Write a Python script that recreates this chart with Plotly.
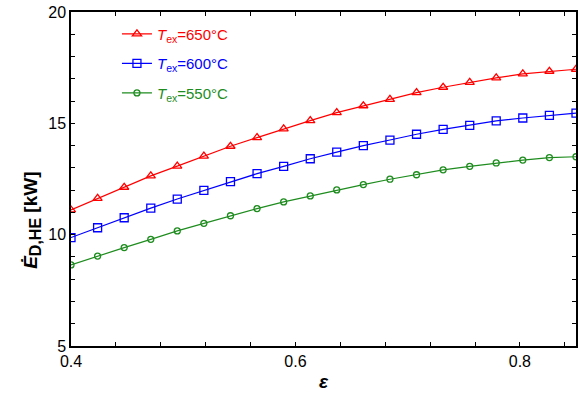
import plotly.graph_objects as go

eps = [0.4, 0.4237, 0.4474, 0.4711, 0.4947, 0.5184, 0.5421, 0.5658, 0.5895, 0.6132,
       0.6368, 0.6605, 0.6842, 0.7079, 0.7316, 0.7553, 0.7789, 0.8026, 0.8263, 0.85]

ed_650 = [11.11, 11.63, 12.13, 12.64, 13.08, 13.53, 13.97, 14.36, 14.75, 15.12,
          15.48, 15.79, 16.08, 16.38, 16.62, 16.84, 17.04, 17.22, 17.34, 17.43]
ed_600 = [9.87, 10.31, 10.76, 11.19, 11.60, 11.99, 12.38, 12.74, 13.07, 13.41,
          13.71, 14.00, 14.25, 14.51, 14.73, 14.91, 15.11, 15.24, 15.36, 15.46]
ed_550 = [8.64, 9.04, 9.42, 9.79, 10.17, 10.51, 10.85, 11.17, 11.47, 11.74,
          12.01, 12.25, 12.49, 12.69, 12.91, 13.07, 13.22, 13.35, 13.46, 13.50]

labels = ["650", "600", "550"]
series = [ed_650, ed_600, ed_550]
colors = ["#ff0000", "#0000ff", "#1e8c1e"]
symbols = ["triangle-up-open", "square-open", "circle-open"]
sizes = [8, 8, 6]

FONT = "Liberation Sans, Arial, sans-serif"

fig = go.Figure()
for lab, ys, c, s, sz in zip(labels, series, colors, symbols, sizes):
    fig.add_trace(go.Scatter(
        x=eps, y=ys, mode="lines+markers",
        name=f"<span style='color:{c}'><i>T</i><sub>ex</sub>={lab}°C</span>",
        legendgroup=lab,
        line=dict(color=c, width=1.2),
        marker=dict(symbol=s, size=sz, color=c, line=dict(color=c, width=1.3)),
    ))

axis_common = dict(
    showline=True, linecolor="black", linewidth=1.5, mirror="ticks",
    ticks="inside", ticklen=4, tickwidth=1, tickcolor="black",
    showgrid=False, zeroline=False,
    tickfont=dict(family=FONT, size=16, color="black"),
)

fig.update_xaxes(
    range=[0.4, 0.85], tick0=0.4, dtick=0.2, tickformat=".1f",
    minor=dict(ticks="inside", ticklen=4, tick0=0.4, dtick=0.04, tickcolor="black", showgrid=False),
    title=dict(text="<b><i>ε</i></b>", font=dict(family=FONT, size=19, color="black"), standoff=6),
    **axis_common,
)
fig.update_yaxes(
    range=[5, 20], tick0=5, dtick=5,
    minor=dict(ticks="inside", ticklen=4, tick0=5, dtick=1, tickcolor="black", showgrid=False),
    **axis_common,
)

fig.add_annotation(
    text="<b><i>Ė</i><sub><span style='font-size:16px'>D,HE</span></sub> [kW]</b>",
    xref="paper", yref="paper", x=-0.077, y=0.375,
    xanchor="center", yanchor="middle", textangle=-90, showarrow=False,
    font=dict(family=FONT, size=19, color="black"),
)

fig.update_layout(
    width=581, height=394,
    margin=dict(l=71, r=3, t=12, b=48),
    paper_bgcolor="white", plot_bgcolor="white",
    font=dict(family=FONT, color="black"),
    legend=dict(
        x=0.091, y=0.983, xanchor="left", yanchor="top",
        bgcolor="rgba(0,0,0,0)", borderwidth=0,
        font=dict(family=FONT, size=15),
        tracegroupgap=7,
    ),
)

fig.write_html("out.html")
